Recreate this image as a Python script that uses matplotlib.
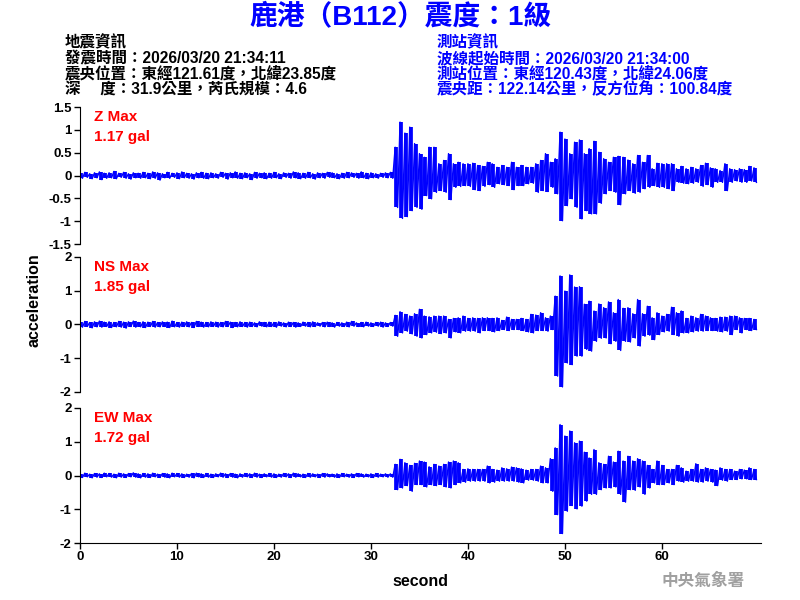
import numpy as np
import matplotlib
matplotlib.use("Agg")
import matplotlib.pyplot as plt

plt.rcParams['font.family'] = ['Liberation Sans', 'Noto Sans CJK TC']

# envelope of each trace, read per 0.5 s bin (peak up, peak down), gal
t_step = 0.5

z_hi = [0.05, 0.07, 0.04, 0.06, 0.08, 0.05, 0.06, 0.09, 0.05, 0.07, 0.04, 0.06, 0.05,
        0.07, 0.05, 0.08, 0.06, 0.04, 0.07, 0.05, 0.06, 0.08, 0.05, 0.04, 0.06, 0.07,
        0.05, 0.06, 0.04, 0.07, 0.05, 0.06, 0.08, 0.05, 0.06, 0.04, 0.07, 0.05, 0.06,
        0.05, 0.07, 0.04, 0.06, 0.05, 0.08, 0.06, 0.05, 0.07, 0.04, 0.06, 0.05, 0.07,
        0.06, 0.04, 0.05, 0.07, 0.06, 0.05, 0.08, 0.05, 0.06, 0.04, 0.05, 0.06, 0.07,
        0.62, 1.17, 0.93, 1.06, 0.70, 0.48, 0.40, 0.62, 0.62, 0.26, 0.33, 0.48,
        0.26, 0.29, 0.26, 0.26, 0.27, 0.22, 0.20, 0.29, 0.26, 0.18, 0.22, 0.18,
        0.29, 0.18, 0.22, 0.18, 0.18, 0.26, 0.33, 0.48, 0.29, 0.37, 0.95, 0.80,
        0.48, 0.73, 0.78, 0.48, 0.59, 0.75, 0.51, 0.37, 0.29, 0.40, 0.42, 0.40, 0.34,
        0.26, 0.44, 0.29, 0.44, 0.15, 0.27, 0.26, 0.26, 0.26, 0.15, 0.20, 0.15, 0.18,
        0.15, 0.22, 0.27, 0.17, 0.15, 0.11, 0.26, 0.15, 0.13, 0.15, 0.13, 0.20, 0.17]
z_lo = [-0.06, -0.04, -0.07, -0.05, -0.09, -0.06, -0.05, -0.07, -0.04, -0.06, -0.08, -0.05, -0.06,
        -0.05, -0.07, -0.06, -0.10, -0.05, -0.06, -0.04, -0.07, -0.05, -0.06, -0.08, -0.05, -0.06,
        -0.07, -0.05, -0.06, -0.04, -0.08, -0.05, -0.06, -0.07, -0.05, -0.09, -0.06, -0.05, -0.07,
        -0.06, -0.05, -0.07, -0.04, -0.06, -0.05, -0.07, -0.06, -0.05, -0.08, -0.05, -0.06, -0.04,
        -0.05, -0.07, -0.06, -0.05, -0.04, -0.06, -0.05, -0.07, -0.05, -0.06, -0.04, -0.05, -0.06,
        -0.70, -0.94, -0.90, -0.77, -0.70, -0.74, -0.44, -0.51, -0.37, -0.33, -0.37, -0.53,
        -0.26, -0.24, -0.22, -0.24, -0.31, -0.33, -0.24, -0.20, -0.26, -0.18, -0.20, -0.22,
        -0.31, -0.22, -0.22, -0.18, -0.17, -0.37, -0.33, -0.35, -0.26, -0.40, -0.99, -0.66,
        -0.51, -0.70, -0.95, -0.77, -0.84, -0.84, -0.61, -0.40, -0.33, -0.37, -0.64, -0.40, -0.33,
        -0.39, -0.37, -0.29, -0.26, -0.22, -0.26, -0.26, -0.29, -0.33, -0.15, -0.17, -0.18, -0.17,
        -0.15, -0.24, -0.20, -0.26, -0.15, -0.15, -0.33, -0.15, -0.12, -0.15, -0.15, -0.12, -0.15]

ns_hi = [0.07, 0.09, 0.06, 0.08, 0.10, 0.07, 0.08, 0.06, 0.09, 0.07, 0.08, 0.10, 0.06,
         0.08, 0.07, 0.09, 0.06, 0.08, 0.07, 0.10, 0.06, 0.07, 0.08, 0.06, 0.09, 0.07,
         0.06, 0.08, 0.07, 0.06, 0.09, 0.07, 0.06, 0.08, 0.06, 0.07, 0.05, 0.08, 0.06,
         0.07, 0.06, 0.08, 0.05, 0.07, 0.06, 0.05, 0.07, 0.06, 0.08, 0.05, 0.06, 0.07,
         0.05, 0.06, 0.05, 0.07, 0.09, 0.05, 0.06, 0.07, 0.05, 0.06, 0.07, 0.05, 0.06,
         0.27, 0.38, 0.30, 0.25, 0.32, 0.45, 0.25, 0.23, 0.25, 0.25, 0.25, 0.15,
         0.18, 0.20, 0.25, 0.18, 0.20, 0.18, 0.20, 0.20, 0.18, 0.20, 0.12, 0.22,
         0.15, 0.15, 0.18, 0.15, 0.30, 0.28, 0.35, 0.20, 0.25, 0.84, 1.44, 0.99,
         1.47, 1.11, 1.12, 0.60, 0.69, 0.40, 0.61, 0.50, 0.67, 0.35, 0.74, 0.48, 0.50,
         0.32, 0.74, 0.32, 0.54, 0.20, 0.35, 0.25, 0.30, 0.51, 0.35, 0.40, 0.18, 0.25,
         0.20, 0.30, 0.25, 0.20, 0.18, 0.22, 0.22, 0.25, 0.25, 0.20, 0.18, 0.18, 0.15]
ns_lo = [-0.08, -0.06, -0.10, -0.07, -0.08, -0.06, -0.09, -0.07, -0.08, -0.11, -0.06, -0.08, -0.07,
         -0.09, -0.06, -0.08, -0.07, -0.06, -0.09, -0.07, -0.08, -0.06, -0.07, -0.09, -0.06, -0.08,
         -0.07, -0.06, -0.08, -0.07, -0.06, -0.09, -0.07, -0.06, -0.08, -0.06, -0.07, -0.05, -0.07,
         -0.06, -0.08, -0.05, -0.07, -0.06, -0.08, -0.06, -0.05, -0.07, -0.06, -0.05, -0.07, -0.06,
         -0.08, -0.05, -0.06, -0.07, -0.05, -0.06, -0.07, -0.05, -0.06, -0.05, -0.08, -0.06, -0.05,
         -0.35, -0.25, -0.20, -0.28, -0.35, -0.40, -0.30, -0.25, -0.23, -0.27, -0.25, -0.40,
         -0.22, -0.25, -0.20, -0.20, -0.20, -0.25, -0.18, -0.18, -0.22, -0.18, -0.15, -0.18,
         -0.15, -0.15, -0.18, -0.22, -0.25, -0.18, -0.18, -0.20, -0.15, -1.53, -1.85, -1.14,
         -1.19, -0.94, -0.94, -0.74, -0.79, -0.50, -0.41, -0.40, -0.57, -0.50, -0.77, -0.50, -0.52,
         -0.40, -0.64, -0.35, -0.32, -0.45, -0.30, -0.22, -0.20, -0.30, -0.35, -0.25, -0.25, -0.22,
         -0.20, -0.20, -0.18, -0.18, -0.20, -0.22, -0.20, -0.30, -0.15, -0.25, -0.15, -0.18, -0.15]

ew_hi = [0.05, 0.07, 0.04, 0.06, 0.05, 0.07, 0.06, 0.04, 0.07, 0.05, 0.06, 0.08, 0.05,
         0.06, 0.05, 0.07, 0.04, 0.06, 0.05, 0.07, 0.06, 0.05, 0.04, 0.06, 0.07, 0.05,
         0.06, 0.04, 0.05, 0.07, 0.05, 0.06, 0.04, 0.05, 0.06, 0.05, 0.07, 0.04, 0.05,
         0.06, 0.05, 0.04, 0.06, 0.05, 0.07, 0.05, 0.04, 0.06, 0.05, 0.04, 0.06, 0.05,
         0.04, 0.05, 0.06, 0.04, 0.05, 0.06, 0.05, 0.04, 0.05, 0.06, 0.04, 0.05, 0.05,
         0.33, 0.48, 0.38, 0.30, 0.36, 0.43, 0.40, 0.26, 0.33, 0.28, 0.33, 0.40,
         0.43, 0.38, 0.18, 0.20, 0.18, 0.18, 0.18, 0.28, 0.18, 0.16, 0.23, 0.20,
         0.25, 0.23, 0.20, 0.16, 0.18, 0.18, 0.28, 0.23, 0.50, 0.82, 1.51, 1.17,
         1.32, 0.97, 1.02, 0.69, 0.52, 0.77, 0.38, 0.33, 0.57, 0.40, 0.72, 0.43, 0.57,
         0.43, 0.50, 0.43, 0.30, 0.18, 0.43, 0.30, 0.18, 0.18, 0.30, 0.23, 0.13, 0.18,
         0.35, 0.18, 0.23, 0.18, 0.16, 0.23, 0.18, 0.18, 0.13, 0.18, 0.16, 0.23, 0.18]
ew_lo = [-0.06, -0.04, -0.07, -0.05, -0.06, -0.04, -0.05, -0.07, -0.05, -0.06, -0.04, -0.05, -0.07,
         -0.05, -0.06, -0.04, -0.06, -0.05, -0.07, -0.04, -0.05, -0.06, -0.05, -0.07, -0.04, -0.06,
         -0.05, -0.06, -0.04, -0.05, -0.06, -0.05, -0.07, -0.05, -0.04, -0.06, -0.05, -0.06, -0.04,
         -0.05, -0.06, -0.05, -0.04, -0.06, -0.05, -0.04, -0.06, -0.05, -0.04, -0.06, -0.05, -0.04,
         -0.05, -0.06, -0.04, -0.05, -0.06, -0.04, -0.05, -0.04, -0.06, -0.05, -0.04, -0.05, -0.05,
         -0.42, -0.37, -0.30, -0.47, -0.27, -0.27, -0.34, -0.27, -0.30, -0.27, -0.34, -0.37,
         -0.27, -0.22, -0.20, -0.17, -0.17, -0.17, -0.17, -0.22, -0.20, -0.17, -0.17, -0.17,
         -0.17, -0.20, -0.22, -0.14, -0.14, -0.17, -0.22, -0.22, -0.47, -1.16, -1.72, -1.06,
         -0.89, -0.99, -0.91, -0.76, -0.56, -0.56, -0.42, -0.37, -0.37, -0.34, -0.56, -0.79, -0.42,
         -0.44, -0.34, -0.56, -0.37, -0.22, -0.27, -0.27, -0.22, -0.27, -0.17, -0.20, -0.17, -0.17,
         -0.20, -0.20, -0.17, -0.20, -0.30, -0.14, -0.17, -0.12, -0.12, -0.10, -0.10, -0.12, -0.12]

components = ['Z', 'NS', 'EW']
max_pga = ['1.17', '1.85', '1.72']
y_limits = [1.5, 2, 2]
y_ticks = [[-1.5, -1, -0.5, 0, 0.5, 1, 1.5], [-2, -1, 0, 1, 2], [-2, -1, 0, 1, 2]]
y_ticklabels = [['-1.5', '-1', '-0.5', '0', '0.5', '1', '1.5'],
                ['-2', '-1', '0', '1', '2'], ['-2', '-1', '0', '1', '2']]
x_ticks = [0, 10, 20, 30, 40, 50, 60]

title = '鹿港（B112）震度：1級'
quake_info = ['地震資訊',
              '發震時間：2026/03/20 21:34:11',
              '震央位置：東經121.61度，北緯23.85度',
              '深\u3000 度：31.9公里，芮氏規模：4.6']
station_info = ['測站資訊',
                '波線起始時間：2026/03/20 21:34:00',
                '測站位置：東經120.43度，北緯24.06度',
                '震央距：122.14公里，反方位角：100.84度']

fig = plt.figure(figsize=(8, 6), dpi=100)
rects = [[0.1, 0.5933, 0.851, 0.2283],
         [0.1, 0.3467, 0.851, 0.225],
         [0.1, 0.095, 0.851, 0.225]]

traces = [(z_hi, z_lo), (ns_hi, ns_lo), (ew_hi, ew_lo)]
for i, (hi, lo) in enumerate(traces):
    ax = fig.add_axes(rects[i])
    n = len(hi)
    t = np.arange(n) * t_step
    x = np.empty(2 * n)
    y = np.empty(2 * n)
    x[0::2] = t
    x[1::2] = t + t_step / 2
    y[0::2] = hi
    y[1::2] = lo
    # min/max bar per bin plus a zigzag through the peaks
    ax.vlines(t + t_step / 4, lo, hi, color='#0000FF', lw=2.7)
    ax.plot(x, y, color='#0000FF', lw=1.0)
    ax.set_xlim(0, 70.2)
    ax.set_ylim(-y_limits[i], y_limits[i])
    ax.set_yticks(y_ticks[i])
    ax.set_yticklabels(y_ticklabels[i], fontsize=9.5, fontweight='bold')
    for s in ['top', 'right']:
        ax.spines[s].set_visible(False)
    ax.tick_params(direction='out', length=4, width=1, pad=2)
    if i < 2:
        ax.spines['bottom'].set_visible(False)
        ax.set_xticks([])
    else:
        ax.set_xticks(x_ticks)
        ax.set_xticklabels([str(v) for v in x_ticks], fontsize=9.5, fontweight='bold')
        ax.set_xlabel('second', fontsize=11.5, fontweight='bold', labelpad=8)
    ax.text(0.021, 0.975, components[i] + ' Max', transform=ax.transAxes,
            color='#FF0000', fontsize=11, fontweight='bold', va='top', ha='left')
    ax.text(0.021, 0.83, max_pga[i] + ' gal', transform=ax.transAxes,
            color='#FF0000', fontsize=11, fontweight='bold', va='top', ha='left')

fig.text(0.042, 0.5, 'acceleration', rotation=90, ha='center', va='center',
         fontsize=11.5, fontweight='bold')

fig.text(0.5, 0.97, title, ha='center', va='center', color='#0000FF',
         fontsize=20, fontweight='bold')

line_y = [43, 58.5, 74, 89.5]
for k in range(4):
    fig.text(65 / 800, 1 - line_y[k] / 600, quake_info[k], ha='left', va='center',
             color='black', fontsize=11.2, fontweight='bold')
    fig.text(437 / 800, 1 - line_y[k] / 600, station_info[k], ha='left', va='center',
             color='#0000FF', fontsize=11.2, fontweight='bold')

fig.text(745 / 800, 1 - 581 / 600, '中央氣象署', ha='right', va='center',
         color='#A0A0A0', fontsize=12, fontweight='bold')

fig.savefig('out.png', dpi=100)
